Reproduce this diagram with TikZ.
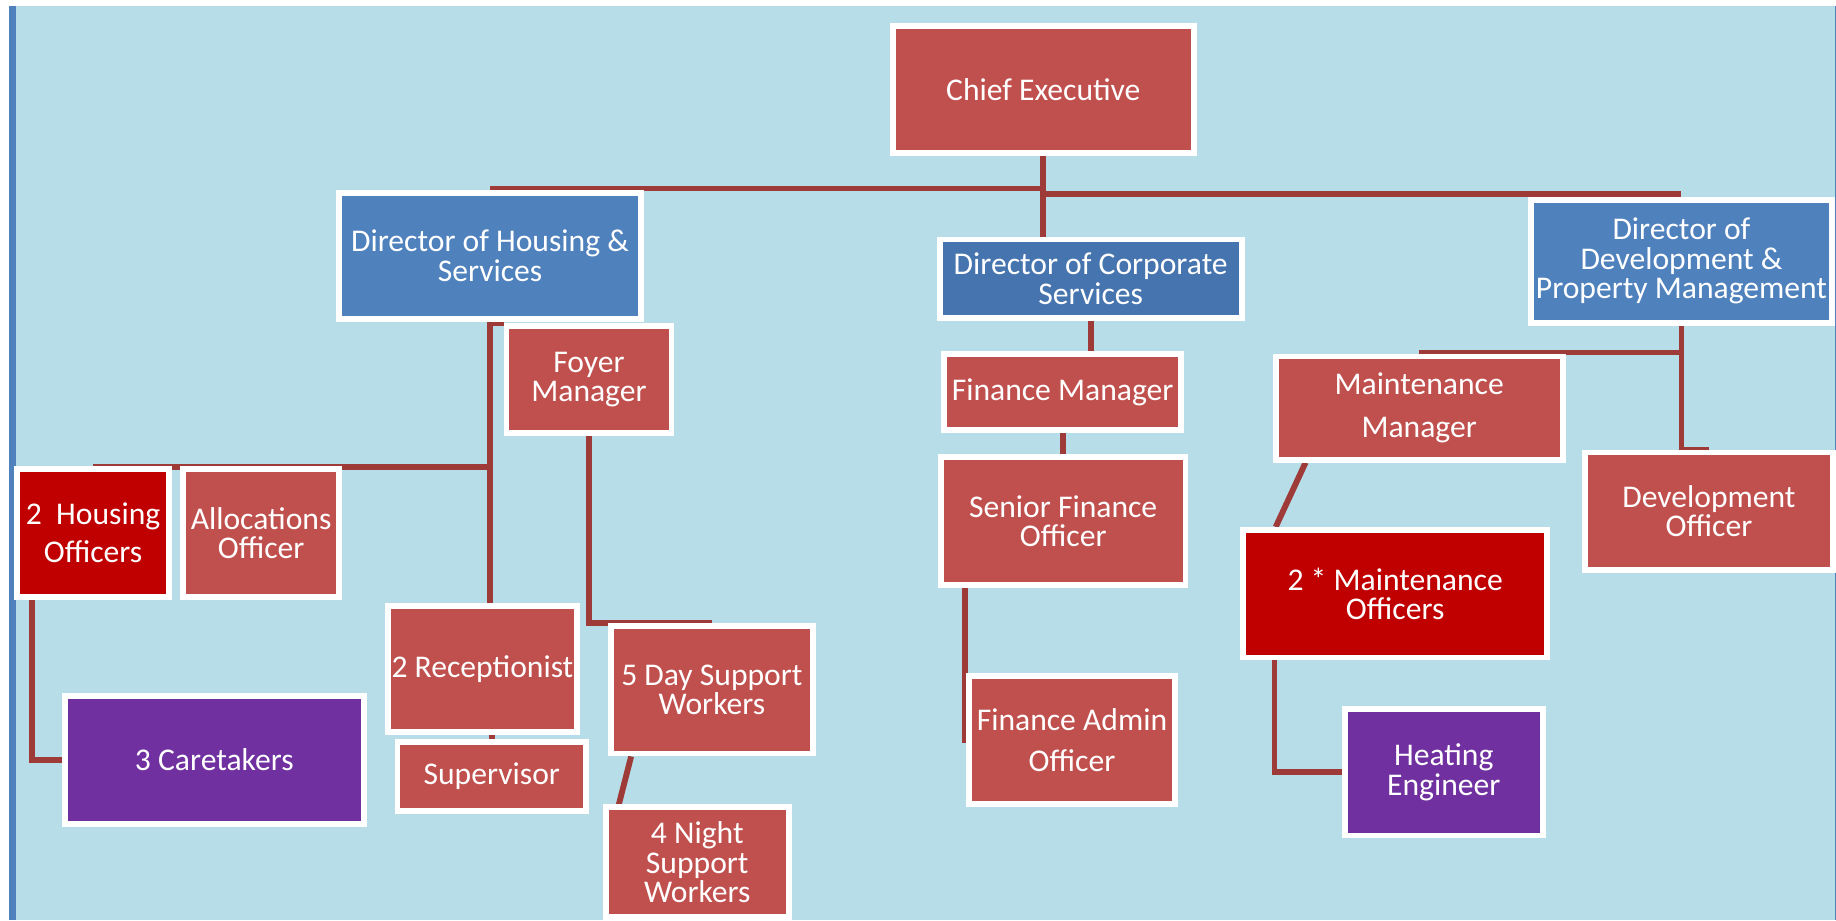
\documentclass[tikz,border=0pt]{standalone}
\usepackage{fontspec}
\setmainfont{Carlito}
\definecolor{paper}{HTML}{B7DDE8}
\definecolor{dirblue}{HTML}{4F81BD}
\definecolor{corpblue}{HTML}{4674AE}
\definecolor{postred}{HTML}{C0504D}
\definecolor{darkred}{HTML}{C00000}
\definecolor{postpurple}{HTML}{7030A0}
\definecolor{linkred}{HTML}{9E3A38}
\pgfdeclarelayer{bg}
\pgfdeclarelayer{links}
\pgfsetlayers{bg,links,main}
\begin{document}
\begin{tikzpicture}[x=1pt,y=-1pt,
	post/.style={draw=white,line width=5pt,text=white,align=center,inner sep=0pt,
		font=\fontsize{27}{25}\selectfont},
	link/.style={draw=linkred,line width=5pt}]
\useasboundingbox (0,0) rectangle (1568,786);
\begin{pgfonlayer}{bg}
\fill[paper] (13.7,5) rectangle (1568,786);
\fill[dirblue] (7.7,5) rectangle (13.7,786);
\fill[dirblue] (1567,5) rectangle (1568,786);
\end{pgfonlayer}
% top
\node[post,fill=postred,minimum width=257pt,minimum height=108pt] (ceo) at (891,76.5) {Chief Executive};
\node[post,fill=dirblue,minimum width=258pt,minimum height=108pt] (dhs) at (418.5,218.5) {Director of Housing \&\\Services};
\node[post,fill=corpblue,minimum width=258pt,minimum height=67pt] (dcs) at (931.5,238) {Director of Corporate\\Services};
\node[post,fill=dirblue,minimum width=257pt,minimum height=105pt] (ddpm) at (1436,223) {Director of\\Development \&\\Property Management};
% housing
\node[post,fill=postred,minimum width=141pt,minimum height=91pt] (foyer) at (503,324) {Foyer\\Manager};
\node[post,fill=darkred,minimum width=130pt,minimum height=109pt] (ho) at (79.5,455) {2~~Housing\\[8pt]Officers};
\node[post,fill=postred,minimum width=133pt,minimum height=109pt] (ao) at (223,455) {Allocations\\Officer};
\node[post,fill=postred,minimum width=161pt,minimum height=108pt] (rec) at (412,571.5) {2 Receptionist};
\node[post,fill=postred,minimum width=161pt,minimum height=59pt] (sup) at (420,663) {Supervisor};
\node[post,fill=postred,minimum width=173pt,minimum height=109pt] (day) at (608,589) {5 Day Support\\Workers};
\node[post,fill=postred,minimum width=156pt,minimum height=94pt] (night) at (595.5,736.5) {4 Night\\Support\\Workers};
\node[post,fill=postpurple,minimum width=255pt,minimum height=109pt] (care) at (183,649) {3 Caretakers};
% corporate
\node[post,fill=postred,minimum width=202pt,minimum height=65pt] (fm) at (907.5,335) {Finance Manager};
\node[post,fill=postred,minimum width=209pt,minimum height=109pt] (sfo) at (908,445) {Senior Finance\\Officer};
\node[post,fill=postred,minimum width=176pt,minimum height=109pt] (fao) at (915.5,632) {Finance Admin\\[10pt]Officer};
% development
\node[post,fill=postred,minimum width=245pt,minimum height=88pt] (mm) at (1212,348.5) {Maintenance\\[12pt]Manager};
\node[post,fill=postred,minimum width=212pt,minimum height=100pt] (dev) at (1459.5,436.5) {Development\\Officer};
\node[post,fill=darkred,minimum width=260pt,minimum height=109pt] (mo) at (1191.5,507) {2 * Maintenance\\Officers};
\node[post,fill=postpurple,minimum width=169pt,minimum height=108pt] (he) at (1233,659.5) {Heating\\Engineer};
% lines
\coordinate (hubL) at (891,161);
\coordinate (hubR) at (891,165.5);
\coordinate (hubH) at (418.5,399);
\coordinate (hubM) at (1437,301);
\begin{pgfonlayer}{links}
\draw[link] (ceo) -- (ceo |- dcs.north);
\draw[link] (hubL) -- (hubL -| dhs.north);
\draw[link] (hubR) -- (hubR -| ddpm.north);
\draw[link] (dhs.south) -- (dhs.south |- rec.north);
\draw[link] (hubH) -- (hubH -| ho.north);
\draw[link] (dhs.south) |- (foyer.north west);
\draw[link] (foyer.south) |- (day.north);
\draw[link] (sup.north) -- (sup.north |- rec.south);
\draw[link] ([xshift=-69pt]day.south) -- ([xshift=-67pt]night.north);
\draw[link] ([xshift=-52pt]ho.south) |- (care.west);
\draw[link] (dcs.south) -- (dcs.south |- fm.north);
\draw[link] (fm.south) -- (fm.south |- sfo.north);
\draw[link] ([xshift=-84pt]sfo.south) |- (fao.west);
\draw[link] (ddpm.south) |- (dev.north);
\draw[link] (hubM) -- (hubM -| mm.north);
\draw[link] ([xshift=-97pt]mm.south) -- ([xshift=-102pt]mo.north);
\draw[link] ([xshift=-103pt]mo.south) |- (he.west);
\end{pgfonlayer}
\end{tikzpicture}
\end{document}
